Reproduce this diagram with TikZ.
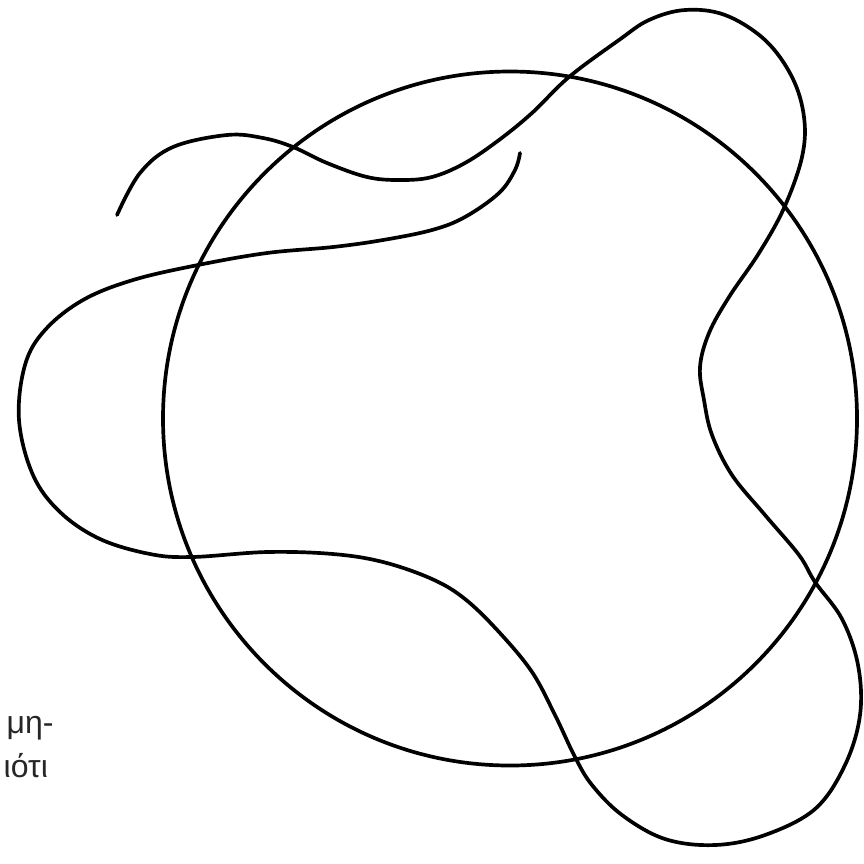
\documentclass[tikz,border=0pt]{standalone}
\usepackage{fontspec}
\setmainfont{Liberation Sans}
\begin{document}
\begin{tikzpicture}[x=0.01cm,y=-0.01cm,
  stroke/.style={line width=1.05pt,black,line cap=round,line join=round},
  lbl/.style={inner sep=0pt,anchor=base west,font=\fontsize{9.1}{11}\selectfont,text=black!85}]
\useasboundingbox[fill=white] (0,0) rectangle (864,863);
% circle
\coordinate (c) at (510,418.5);
\draw[stroke] (c) circle[radius=347];
% wandering curve
\draw[stroke] plot[smooth,tension=0.6] coordinates {
 (117,215) (140,173) (173,147) (227,135) (263,138) (293,147) (327,163) (367,177)
 (400,180) (432,177) (465,163) (499,140) (532,113) (569,77) (619,40) (649,20)
 (685,10) (725,15) (765,40) (792,77) (804,117) (802,157) (784,208) (759,253)
 (729,297) (709,333) (700,367) (704,400) (712,435) (732,475) (765,515) (799,555)
 (815,582) (842,619) (858,665) (860,715) (845,765) (815,809) (765,835) (715,845)
 (665,839) (622,815) (592,785) (575,757) (555,715) (532,672) (499,632) (465,599)
 (432,579) (383,562) (333,554) (267,552) (192,557) (150,554) (100,539) (60,512)
 (33,475) (19,420) (25,365) (45,330) (83,300) (133,280) (198,265) (267,253)
 (333,247) (383,240) (432,230) (465,217) (499,193) (515,170) (520,153)};
% text fragments at the left margin
\node[lbl] (t1) at (6,733) {μη-};
\node[lbl] (t2) at (3,777) {ιότι};
\end{tikzpicture}
\end{document}
